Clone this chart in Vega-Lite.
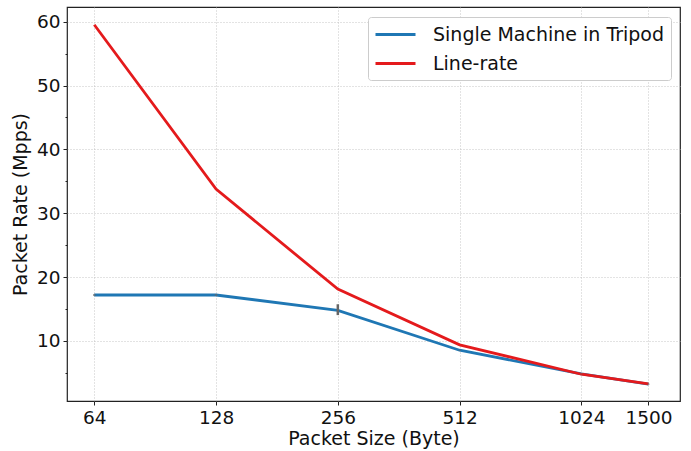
{
  "$schema": "https://vega.github.io/schema/vega-lite/v6.json",
  "autosize": {"type": "none"},
  "width": 613,
  "height": 394,
  "padding": {"left": 67, "top": 7, "right": 11, "bottom": 50},
  "background": "white",
  "config": {
    "font": "DejaVu Sans",
    "view": {"stroke": "#222222", "strokeWidth": 1.2},
    "axis": {
      "labelFont": "DejaVu Sans",
      "titleFont": "DejaVu Sans",
      "labelFontSize": 18.5,
      "titleFontSize": 19,
      "titleFontWeight": "normal",
      "labelColor": "#111111",
      "titleColor": "#111111",
      "tickColor": "#222222",
      "domain": false,
      "gridColor": "#b8b8b8",
      "gridDash": [1, 2],
      "gridWidth": 0.8
    }
  },
  "data": {
    "values": [
      {"size": 64, "rate": 17.2, "lo": 17.1, "hi": 17.3, "series": "Single Machine in Tripod"},
      {"size": 128, "rate": 17.2, "lo": 17.1, "hi": 17.3, "series": "Single Machine in Tripod"},
      {"size": 256, "rate": 14.8, "lo": 14.05, "hi": 15.75, "series": "Single Machine in Tripod"},
      {"size": 512, "rate": 8.55, "lo": 8.5, "hi": 8.6, "series": "Single Machine in Tripod"},
      {"size": 1024, "rate": 4.85, "lo": 4.8, "hi": 4.9, "series": "Single Machine in Tripod"},
      {"size": 1500, "rate": 3.25, "lo": 3.2, "hi": 3.3, "series": "Single Machine in Tripod"},
      {"size": 64, "rate": 59.52, "series": "Line-rate"},
      {"size": 128, "rate": 33.78, "series": "Line-rate"},
      {"size": 256, "rate": 18.12, "series": "Line-rate"},
      {"size": 512, "rate": 9.40, "series": "Line-rate"},
      {"size": 1024, "rate": 4.79, "series": "Line-rate"},
      {"size": 1500, "rate": 3.29, "series": "Line-rate"}
    ]
  },
  "encoding": {
    "x": {
      "field": "size",
      "type": "quantitative",
      "scale": {"type": "log", "base": 2, "domain": [54.8, 1795]},
      "axis": {
        "values": [64, 128, 256, 512, 1024, 1500],
        "format": "d",
        "title": "Packet Size (Byte)",
        "tickSize": 4,
        "labelPadding": 3,
        "titlePadding": 3,
        "grid": true,
        "labelFlush": false
      }
    }
  },
  "resolve": {"axis": {"y": "independent"}},
  "layer": [
    {
      "mark": {"type": "line", "strokeWidth": 2.8},
      "encoding": {
        "y": {
          "field": "rate",
          "type": "quantitative",
          "scale": {"domain": [0.6, 62.3], "nice": false, "zero": false},
          "axis": {
            "orient": "left",
            "values": [10, 20, 30, 40, 50, 60],
            "format": "d",
            "tickSize": 4,
            "title": "Packet Rate (Mpps)",
            "labelPadding": 3,
            "titlePadding": 6,
            "grid": true
          }
        },
        "color": {
          "field": "series",
          "type": "nominal",
          "scale": {"domain": ["Single Machine in Tripod", "Line-rate"], "range": ["#1f77b4", "#e41a1c"]},
          "legend": {
            "title": null,
            "orient": "top-right",
            "offset": 9.5,
            "symbolType": "M-2,0L2,0",
            "symbolSize": 400,
            "symbolOffset": 10,
            "symbolStrokeWidth": 3,
            "labelFontSize": 19,
            "labelFont": "DejaVu Sans",
            "labelColor": "#111111",
            "labelOffset": 26,
            "labelLimit": 0,
            "rowPadding": 7,
            "fillColor": "white",
            "strokeColor": "#cccccc",
            "cornerRadius": 3,
            "padding": 6
          }
        }
      }
    },
    {
      "transform": [{"filter": "datum.series === 'Single Machine in Tripod'"}],
      "mark": {"type": "rule", "color": "#666666", "strokeWidth": 2.5},
      "encoding": {
        "y": {
          "field": "lo",
          "type": "quantitative",
          "axis": {
            "orient": "left",
            "values": [5, 15, 25, 35, 45, 55],
            "labels": false,
            "tickSize": 2,
            "grid": false,
            "title": null,
            "domain": false
          }
        },
        "y2": {"field": "hi"}
      }
    }
  ]
}
